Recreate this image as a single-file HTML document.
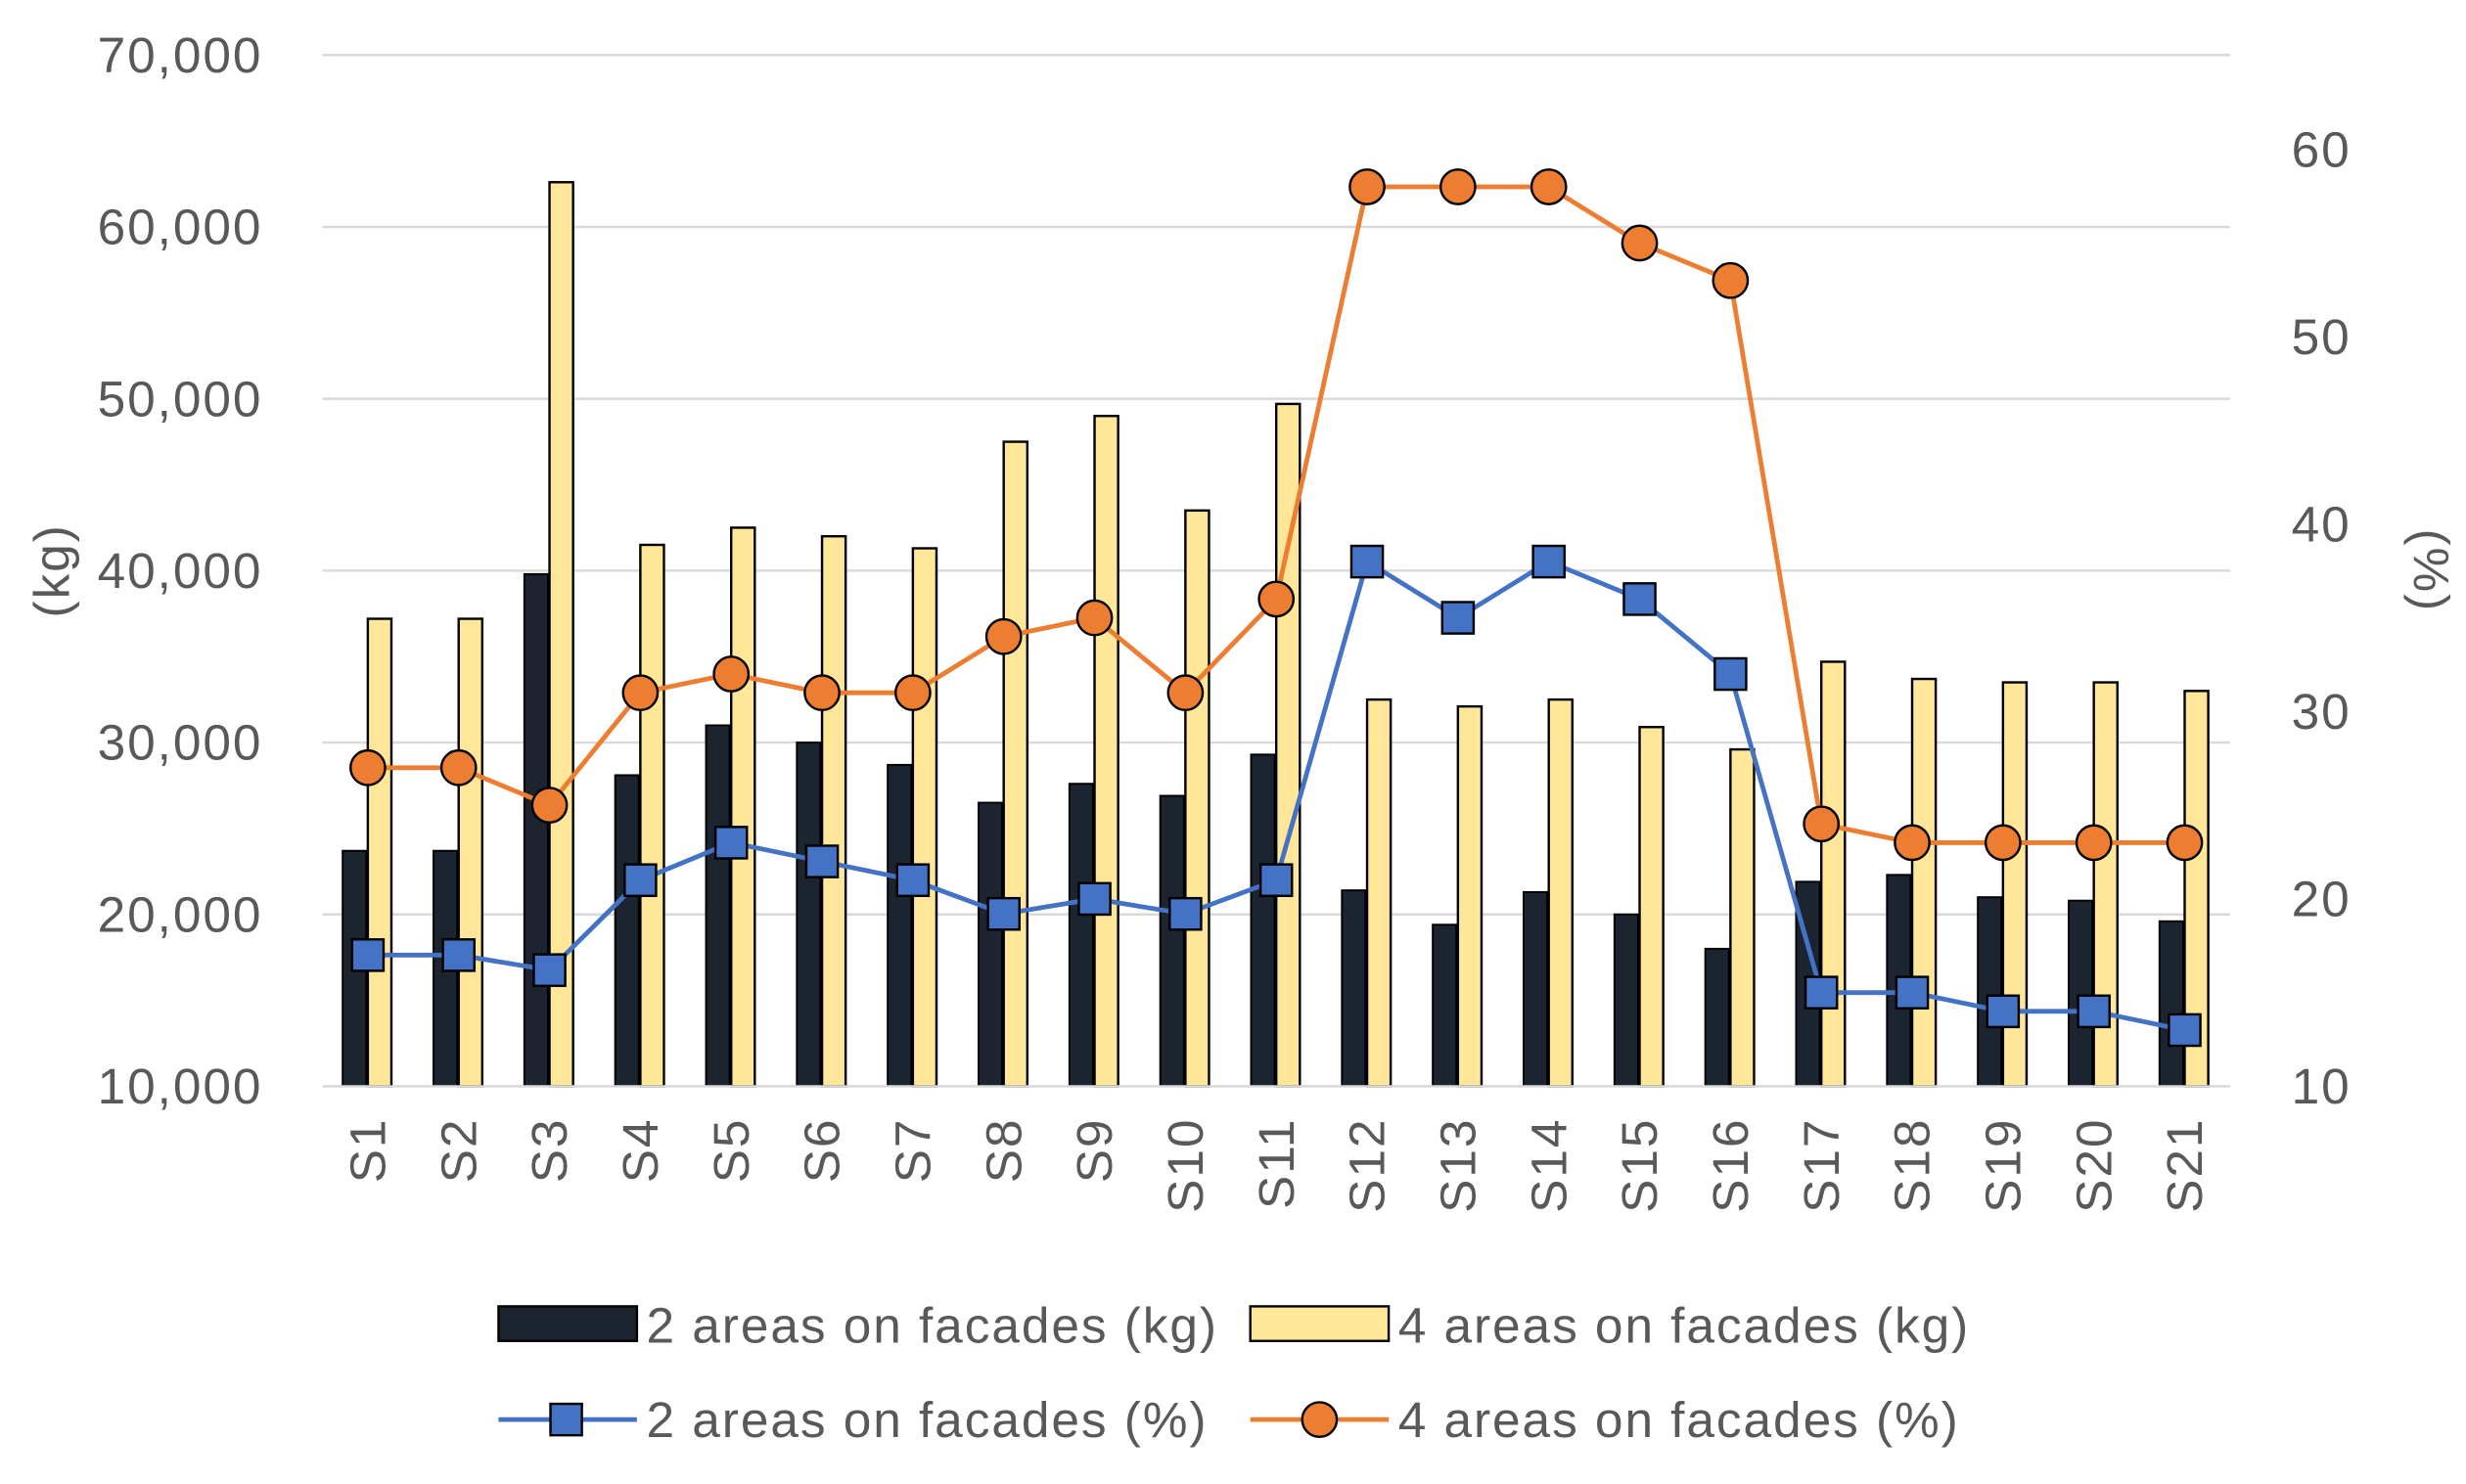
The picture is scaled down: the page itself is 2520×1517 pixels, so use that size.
<!DOCTYPE html>
<html><head><meta charset="utf-8"><style>
html,body{margin:0;padding:0;background:#fff}
svg{display:block;font-family:"Liberation Sans",sans-serif}
svg text{letter-spacing:1.2px}
</style></head><body>
<svg id="chart" width="2520" height="1517" viewBox="0 0 1568 944" preserveAspectRatio="none" xmlns="http://www.w3.org/2000/svg">
<g id="grid"></g>
<g id="bars"></g>
<g id="lines"></g>
<g id="axes"></g>
<text transform="translate(44,363) rotate(-90)" text-anchor="middle" font-size="32" fill="#595959">(kg)</text>
<text transform="translate(1535,363) rotate(90)" text-anchor="middle" font-size="32" fill="#595959">(%)</text>
<g font-size="32" fill="#595959">
 <g><rect x="317" y="831" width="88" height="22" fill="#1c2430" stroke="#000" stroke-width="1.5"/><text x="411" y="854">2 areas on facades (kg)</text></g>
 <g><rect x="795" y="831" width="88" height="22" fill="#ffe699" stroke="#000" stroke-width="1.5"/><text x="889" y="854">4 areas on facades (kg)</text></g>
 <g><line x1="317" y1="903" x2="405" y2="903" stroke="#4472c4" stroke-width="3"/><rect x="350" y="893" width="20" height="20" fill="#4472c4" stroke="#000" stroke-width="1.5"/><text x="411" y="914">2 areas on facades (%)</text></g>
 <g><line x1="795" y1="903" x2="883" y2="903" stroke="#ed7d31" stroke-width="3"/><circle cx="839" cy="903" r="11" fill="#ed7d31" stroke="#000" stroke-width="1.5"/><text x="889" y="914">4 areas on facades (%)</text></g>
</g>
</svg>
<script>
const categories=["S1","S2","S3","S4","S5","S6","S7","S8","S9","S10","S11","S12","S13","S14","S15","S16","S17","S18","S19","S20","S21"];
const kg2=[23700,23700,39800,28100,31000,30000,28700,26500,27600,26900,29300,21400,19400,21300,20000,18000,21900,22300,21000,20800,19600];
const kg4=[37200,37200,62600,41500,42500,42000,41300,47500,49000,43500,49700,32500,32100,32500,30900,29600,34700,33700,33500,33500,33000];
const pct2=[17,17,16.2,21,23,22,21,19.2,20,19.2,21,38,35,38,36,32,15,15,14,14,13];
const pct4=[27,27,25,31,32,31,31,34,35,31,36,58,58,58,55,53,24,23,23,23,23];
const leftTicks=[10000,20000,30000,40000,50000,60000,70000];
const rightTicks=[10,20,30,40,50,60];
const NS="http://www.w3.org/2000/svg";
const X0=205,X1=1418,step=(X1-X0)/categories.length;
const yL=v=>691-(v-10000)/60000*656;
const yR=v=>691-(v-10)/50*596;
const xc=i=>X0+step*(i+0.5);
function mk(tag,attrs,parent,text){const e=document.createElementNS(NS,tag);for(const k in attrs)e.setAttribute(k,attrs[k]);if(text!==undefined)e.textContent=text;document.getElementById(parent).appendChild(e);return e;}
leftTicks.forEach(t=>{
 const l=mk('line',{x1:X0,x2:X1,y1:yL(t),y2:yL(t),stroke:'#d9d9d9','stroke-width':1.5},'grid');
 
 
 const tx=mk('text',{x:167,y:yL(t)+11,'text-anchor':'end','font-size':32,fill:'#595959'},'axes',t.toLocaleString('en-US'));
 
 
});
rightTicks.forEach(t=>{
 const tx=mk('text',{x:1495,y:yR(t)+11,'text-anchor':'end','font-size':32,fill:'#595959'},'axes',String(t));
 
 
});
categories.forEach((c,i)=>{
 const cx=xc(i);
 const b1=mk('rect',{x:cx-16,y:yL(kg2[i]),width:15,height:691-yL(kg2[i]),fill:'#1c2430',stroke:'#000','stroke-width':1.2},'bars');
 
 
 const b2=mk('rect',{x:cx,y:yL(kg4[i]),width:15,height:691-yL(kg4[i]),fill:'#ffe699',stroke:'#000','stroke-width':1.5},'bars');
 
 
 const tx=mk('text',{transform:`translate(${cx+11},${711}) rotate(-90)`,'text-anchor':'end','font-size':32,fill:'#595959'},'axes',c);
 
 
});
mk('line',{x1:X0,x2:X1,y1:691,y2:691,stroke:'#d9d9d9','stroke-width':1.5},'axes');
const p2=mk('polyline',{points:pct2.map((v,i)=>xc(i)+','+yR(v)).join(' '),fill:'none',stroke:'#4472c4','stroke-width':3},'lines');


const p4=mk('polyline',{points:pct4.map((v,i)=>xc(i)+','+yR(v)).join(' '),fill:'none',stroke:'#ed7d31','stroke-width':3},'lines');


pct2.forEach((v,i)=>{
 const m=mk('rect',{x:xc(i)-10,y:yR(v)-10,width:20,height:20,fill:'#4472c4',stroke:'#000','stroke-width':1.5},'lines');
 
 
});
pct4.forEach((v,i)=>{
 const m=mk('circle',{cx:xc(i),cy:yR(v),r:11,fill:'#ed7d31',stroke:'#000','stroke-width':1.5},'lines');
 
 
});
</script>
</body></html>
